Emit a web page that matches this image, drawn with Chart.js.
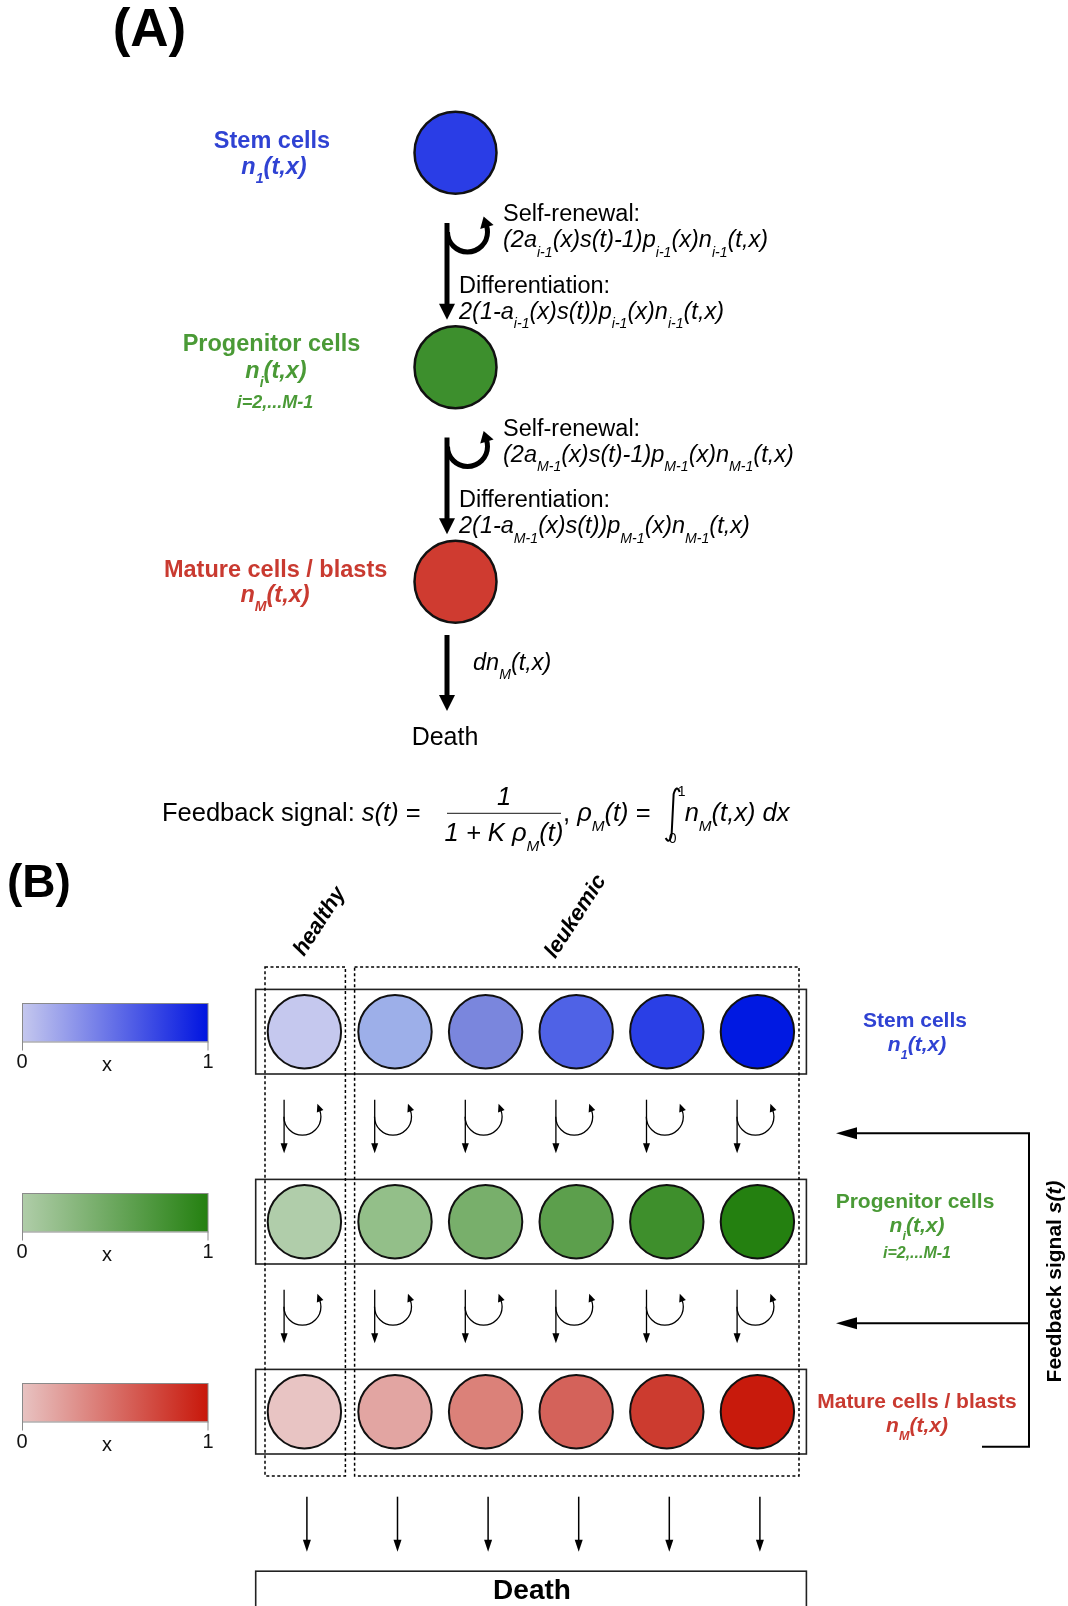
<!DOCTYPE html>
<html><head><meta charset="utf-8">
<script src="https://cdn.jsdelivr.net/npm/chart.js@4.4.1/dist/chart.umd.min.js"></script>
<style>html,body{margin:0;padding:0;background:#fff;}canvas{display:block;}</style>
</head><body>
<canvas id="c" width="1068" height="1606"></canvas>
<script>
// ---------- data ----------
const compartments = ['Stem cells', 'Progenitor cells', 'Mature cells / blasts'];
const compartmentIndex = ['1', 'i', 'M'];
const traitValues = [0, 0.2, 0.4, 0.6, 0.8, 1.0];
const populationGroups = ['healthy', 'leukemic'];
const colorbarTicks = ['0', 'x', '1'];
const stemColors = ['#c5c8ee', '#9dafe9', '#7a86dd', '#4f62e6', '#2a3fe6', '#0019e2'];
const progenitorColors = ['#b0cdaa', '#93bf89', '#78af6b', '#5c9f4c', '#3e8f2c', '#248010'];
const matureColors = ['#e8c4c3', '#e2a5a2', '#db8179', '#d4625a', '#cc3b2f', '#c81a0c'];
const schemeColors = ['#2a3de6', '#3d8f2d', '#cf3b30'];
const labelColors = ['#2f42d3', '#4a9a36', '#c93a30'];
const barGradients = [['#c5c8ee', '#0014e0'], ['#b0cda9', '#248010'], ['#e8c3c2', '#c8170a']];

const F = '"Liberation Sans", Arial, Helvetica, sans-serif';
function fnt(sz, fl) { return (fl.includes('i') ? 'italic ' : '') + (fl.includes('b') ? 'bold ' : '') + sz + 'px ' + F; }
function rich(ctx, x, y, size, segs, align, color, baseFlags) {
  baseFlags = baseFlags || '';
  const items = segs.map(s => {
    const txt = typeof s === 'string' ? s : s[0];
    const fl = baseFlags + (typeof s === 'string' ? '' : (s[1] || ''));
    const isSub = fl.includes('s'), isSup = fl.includes('p');
    const sz = (isSub || isSup) ? size * 0.6 : size;
    ctx.font = fnt(sz, fl);
    return { txt, fl, sz, w: ctx.measureText(txt).width, dy: isSub ? size * 0.4 : (isSup ? -size * 0.45 : 0) };
  });
  const total = items.reduce((a, b) => a + b.w, 0);
  let cx = align === 'center' ? x - total / 2 : (align === 'right' ? x - total : x);
  ctx.fillStyle = color; ctx.textAlign = 'left'; ctx.textBaseline = 'alphabetic';
  items.forEach(it => { ctx.font = fnt(it.sz, it.fl); ctx.fillText(it.txt, cx, y + it.dy); cx += it.w; });
  return total;
}
function head(ctx, tx, ty, dx, dy, len, hw) {
  const bx = tx - dx * len, by = ty - dy * len;
  ctx.beginPath(); ctx.moveTo(tx, ty);
  ctx.lineTo(bx - dy * hw, by + dx * hw); ctx.lineTo(bx + dy * hw, by - dx * hw);
  ctx.closePath(); ctx.fill();
}
function vArrow(ctx, x, y1, y2, lw, len, hw) {
  ctx.lineWidth = lw; ctx.beginPath(); ctx.moveTo(x, y1); ctx.lineTo(x, y2 - len + 1); ctx.stroke();
  head(ctx, x, y2, 0, 1, len, hw);
}
function curl(ctx, cx, cy, r, endA, lw, len, hw) {
  ctx.lineWidth = lw; ctx.beginPath(); ctx.arc(cx, cy, r, Math.PI, endA, true); ctx.stroke();
  const ex = cx + r * Math.cos(endA), ey = cy + r * Math.sin(endA);
  const dx = Math.sin(endA), dy = -Math.cos(endA);
  head(ctx, ex + dx * len, ey + dy * len, dx, dy, len + 1, hw);
}

const diagram = {
  id: 'diagram',
  beforeDatasetsDraw(chart) {
    const ctx = chart.ctx, X = chart.scales.x, Y = chart.scales.y;
    const col = traitValues.map(v => X.getPixelForValue(v));
    const row = compartments.map((c, i) => Y.getPixelForValue(i));
    const bl = col[0] - 48.7, br = col[5] + 49;
    ctx.save();
    ctx.strokeStyle = '#222'; ctx.lineWidth = 1.6;
    row.forEach(ry => ctx.strokeRect(bl, ry - 42.3, br - bl, 84.6));
    ctx.setLineDash([3, 2.5]); ctx.lineWidth = 1.5; ctx.strokeStyle = '#000';
    const top = row[0] - 64.7, bot = row[2] + 64.3;
    ctx.strokeRect(col[0] - 39.4, top, 80.4, bot - top);
    ctx.strokeRect(col[1] - 40.4, top, col[5] + 41.6 - (col[1] - 40.4), bot - top);
    ctx.setLineDash([]);
    row.forEach((ry, r) => {
      const y0 = ry - 28.7, h = 38.5;
      const g = ctx.createLinearGradient(22, 0, 208, 0);
      g.addColorStop(0, barGradients[r][0]); g.addColorStop(1, barGradients[r][1]);
      ctx.fillStyle = g; ctx.fillRect(22, y0, 186, h);
      ctx.strokeStyle = '#8a8a8a'; ctx.lineWidth = 1; ctx.strokeRect(22.5, y0 + 0.5, 185.5, h);
      ctx.beginPath(); ctx.moveTo(22.5, y0 + h); ctx.lineTo(22.5, y0 + h + 9);
      ctx.moveTo(208, y0 + h); ctx.lineTo(208, y0 + h + 9); ctx.stroke();
      ctx.fillStyle = '#111'; ctx.font = fnt(20, ''); ctx.textAlign = 'center'; ctx.textBaseline = 'alphabetic';
      ctx.fillText(colorbarTicks[0], 22, ry + 36.5);
      ctx.fillText(colorbarTicks[1], 107, ry + 39.5);
      ctx.fillText(colorbarTicks[2], 208, ry + 36.5);
    });
    ctx.restore();
  },
  afterDatasetsDraw(chart) {
    const ctx = chart.ctx, X = chart.scales.x, Y = chart.scales.y, YA = chart.scales.yA;
    const col = traitValues.map(v => X.getPixelForValue(v));
    const row = compartments.map((c, i) => Y.getPixelForValue(i));
    const st = compartments.map((c, i) => YA.getPixelForValue(i));
    ctx.save();
    ctx.fillStyle = '#000'; ctx.strokeStyle = '#000'; ctx.lineCap = 'butt';
    ctx.font = fnt(53, 'b'); ctx.textAlign = 'left'; ctx.textBaseline = 'alphabetic';
    ctx.fillText('(A)', 112.7, 45.5);
    ctx.font = fnt(46, 'b'); ctx.fillText('(B)', 7, 897);

    // ---------- Panel A ----------
    const lx = 447;
    [0, 1].forEach(t => {
      const b = st[t];
      const sub = t === 0 ? 'i-1' : 'M-1';
      ctx.fillStyle = '#000'; ctx.strokeStyle = '#000';
      vArrow(ctx, lx, b + 70.3, st[t + 1] - 47.5, 5, 16, 8);
      curl(ctx, lx + 20.5, b + 79.3, 20, -0.3, 5, 10, 7);
      rich(ctx, 503, b + 68.3, 23.5, ['Self-renewal:'], 'left', '#000');
      rich(ctx, 503, b + 94.5, 23.5, ['(2a', [sub, 's'], '(x)s(t)-1)p', [sub, 's'], '(x)n', [sub, 's'], '(t,x)'], 'left', '#000', 'i');
      rich(ctx, 459, b + 140, 23.5, ['Differentiation:'], 'left', '#000');
      rich(ctx, 459, b + 166, 23.5, ['2(1-a', [sub, 's'], '(x)s(t))p', [sub, 's'], '(x)n', [sub, 's'], '(t,x)'], 'left', '#000', 'i');
    });
    ctx.fillStyle = '#000';
    vArrow(ctx, lx, st[2] + 53.3, st[2] + 129.3, 5, 16, 8);
    rich(ctx, 473, st[2] + 88, 23.5, ['dn', ['M', 's'], '(t,x)'], 'left', '#000', 'i');
    rich(ctx, 445, st[2] + 163, 25, ['Death'], 'center', '#000');
    rich(ctx, 272, st[0] - 4.7, 23.5, [compartments[0]], 'center', labelColors[0], 'b');
    rich(ctx, 274, st[0] + 21.3, 23.5, ['n', [compartmentIndex[0], 's'], '(t,x)'], 'center', labelColors[0], 'bi');
    rich(ctx, 271.5, st[1] - 16.5, 23.5, [compartments[1]], 'center', labelColors[1], 'b');
    rich(ctx, 276, st[1] + 10.5, 23.5, ['n', [compartmentIndex[1], 's'], '(t,x)'], 'center', labelColors[1], 'bi');
    rich(ctx, 275, st[1] + 40.5, 18, ['i=2,...M-1'], 'center', labelColors[1], 'bi');
    rich(ctx, 275.6, st[2] - 4.7, 23.5, [compartments[2]], 'center', labelColors[2], 'b');
    rich(ctx, 275, st[2] + 20.3, 23.5, ['n', [compartmentIndex[2], 's'], '(t,x)'], 'center', labelColors[2], 'bi');

    // feedback formula
    const fs = 25.5, fb = 821;
    rich(ctx, 162, fb, fs, ['Feedback signal: ', ['s(t)', 'i'], ' = '], 'left', '#000');
    rich(ctx, 504, 805, fs, ['1'], 'center', '#000', 'i');
    rich(ctx, 504, 841, fs, ['1 + K ρ', ['M', 's'], '(t)'], 'center', '#000', 'i');
    ctx.strokeStyle = '#444'; ctx.lineWidth = 1.3;
    ctx.beginPath(); ctx.moveTo(447, 813.3); ctx.lineTo(561, 813.3); ctx.stroke();
    const w2 = rich(ctx, 563, fb, fs, [', ', ['ρ', 'i'], ['M', 'is'], ['(t)', 'i'], ' = '], 'left', '#000');
    const ix = 563 + w2 + 15;
    ctx.strokeStyle = '#000'; ctx.lineWidth = 2;
    ctx.beginPath(); ctx.moveTo(ix + 7, 792); ctx.quadraticCurveTo(ix + 4, 784, ix + 1, 794);
    ctx.lineTo(ix - 1, 834); ctx.quadraticCurveTo(ix - 3, 845, ix - 7, 838); ctx.stroke();
    rich(ctx, ix + 5, 796, 14, ['1'], 'left', '#000');
    rich(ctx, ix - 4, 843, 14, ['0'], 'left', '#000');
    rich(ctx, ix + 12, fb, fs, ['n', ['M', 's'], '(t,x) dx'], 'left', '#000', 'i');

    // ---------- Panel B ----------
    [[populationGroups[0], 319, 921], [populationGroups[1], 575, 916]].forEach(([txt, x, y]) => {
      ctx.save(); ctx.translate(x, y); ctx.rotate(-57 * Math.PI / 180);
      rich(ctx, 0, 7, 22, [txt], 'center', '#000', 'bi'); ctx.restore();
    });
    ctx.fillStyle = '#000'; ctx.strokeStyle = '#000';
    [0, 1].forEach(g => {
      const mid = (row[g] + row[g + 1]) / 2;
      col.forEach(cx => {
        vArrow(ctx, cx - 20.3, mid - 27, mid + 26.5, 1.3, 10, 3.5);
        curl(ctx, cx - 2, mid - 10, 18.5, -0.35, 1.3, 7, 3.5);
      });
    });
    col.forEach(cx => vArrow(ctx, cx + 2.5, row[2] + 85, row[2] + 140, 1.5, 12, 4));
    const bl = col[0] - 48.7, br = col[5] + 49;
    ctx.strokeStyle = '#222'; ctx.lineWidth = 1.6;
    ctx.strokeRect(bl, row[2] + 159.5, br - bl, 80);
    rich(ctx, 532, row[2] + 187, 28, ['Death'], 'center', '#000', 'b');
    ctx.strokeStyle = '#000'; ctx.fillStyle = '#000'; ctx.lineWidth = 2;
    const fx = 1029, a1 = (row[0] + row[1]) / 2 + 6.5, a2 = (row[1] + row[2]) / 2 + 6.5, yb = row[2] + 35;
    ctx.beginPath();
    ctx.moveTo(982, yb); ctx.lineTo(fx, yb); ctx.lineTo(fx, a1); ctx.lineTo(856, a1);
    ctx.moveTo(fx, a2); ctx.lineTo(856, a2); ctx.stroke();
    head(ctx, 836, a1, -1, 0, 21, 6);
    head(ctx, 836, a2, -1, 0, 21, 6);
    ctx.save(); ctx.translate(1054, 1281.5); ctx.rotate(-Math.PI / 2);
    rich(ctx, 0, 7, 21, ['Feedback signal ', ['s(t)', 'i']], 'center', '#000', 'b'); ctx.restore();
    rich(ctx, 915, row[0] - 4.7, 21, [compartments[0]], 'center', labelColors[0], 'b');
    rich(ctx, 917, row[0] + 19.3, 21, ['n', [compartmentIndex[0], 's'], '(t,x)'], 'center', labelColors[0], 'bi');
    rich(ctx, 915, row[1] - 14, 21, [compartments[1]], 'center', labelColors[1], 'b');
    rich(ctx, 917, row[1] + 10, 21, ['n', [compartmentIndex[1], 's'], '(t,x)'], 'center', labelColors[1], 'bi');
    rich(ctx, 917, row[1] + 36, 16, ['i=2,...M-1'], 'center', labelColors[1], 'bi');
    rich(ctx, 917, row[2] - 3.7, 21, [compartments[2]], 'center', labelColors[2], 'b');
    rich(ctx, 917, row[2] + 20.3, 21, ['n', [compartmentIndex[2], 's'], '(t,x)'], 'center', labelColors[2], 'bi');
    ctx.restore();
  }
};

const rowPalettes = [stemColors, progenitorColors, matureColors];
const datasets = [{
  label: 'scheme',
  data: compartments.map((c, i) => ({ x: 0, y: i })),
  xAxisID: 'xA', yAxisID: 'yA',
  pointRadius: 41, pointBorderWidth: 2.5, pointBorderColor: '#111',
  pointBackgroundColor: schemeColors, showLine: false, clip: false
}].concat(compartments.map((c, r) => ({
  label: c,
  data: traitValues.map(v => ({ x: v, y: r })),
  xAxisID: 'x', yAxisID: 'y',
  pointRadius: 36.7, pointBorderWidth: 2, pointBorderColor: '#111',
  pointBackgroundColor: rowPalettes[r], showLine: false, clip: false
})));

new Chart(document.getElementById('c'), {
  type: 'scatter',
  data: { datasets },
  options: {
    responsive: false, animation: false, events: [], devicePixelRatio: 1,
    layout: { padding: 0, autoPadding: false },
    plugins: { legend: { display: false }, tooltip: { enabled: false } },
    scales: {
      x: { type: 'linear', display: false, min: -304.4 / 453, max: (1068 - 304.4) / 453 },
      y: { type: 'linear', display: false, reverse: true, min: -1031.7 / 190, max: (1606 - 1031.7) / 190 },
      xA: { type: 'linear', display: false, min: -4.555, max: 6.125 },
      yA: { type: 'linear', display: false, reverse: true, min: -152.7 / 214.5, max: (1606 - 152.7) / 214.5 }
    }
  },
  plugins: [diagram]
});
</script>
</body></html>
